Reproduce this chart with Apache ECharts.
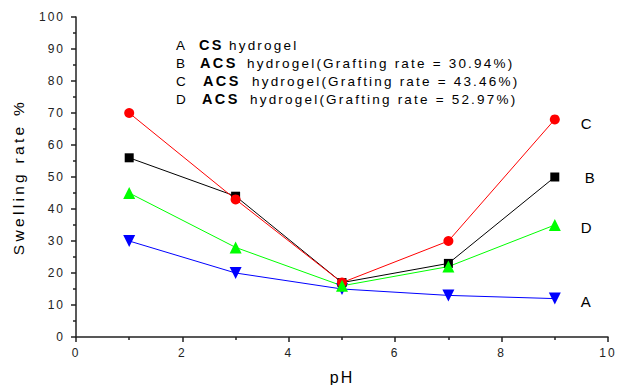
<!DOCTYPE html>
<html><head><meta charset="utf-8">
<script src="https://cdn.jsdelivr.net/npm/echarts@6/dist/echarts.min.js"></script>
<style>html,body{margin:0;padding:0;background:#fff}#c{width:618px;height:385px}
#c svg text[style*="15.5px"]{letter-spacing:3.3px}
#c svg text[style*="16px"]{letter-spacing:2px}
#c svg text[style*="13.5px"]{letter-spacing:2.2px}
#c svg text[style*="14.5px"]{letter-spacing:2.4px}
#c svg text[style*="12px"]{letter-spacing:2px}
</style>
</head><body><div id="c"></div>
<script>
const phValues = [1, 3, 5, 7, 9];
const seriesA = [30, 20, 15, 13, 12];
const seriesB = [56, 44, 17, 23, 50];
const seriesC = [70, 43, 17, 30, 68];
const seriesD = [45, 28, 16, 22, 35];
const legendKeys = ['A', 'B', 'C', 'D'];
const legendBold = ['CS', 'ACS', 'ACS', 'ACS'];
const legendRest = ['hydrogel', 'hydrogel(Grafting rate = 30.94%)', 'hydrogel(Grafting rate = 43.46%)', 'hydrogel(Grafting rate = 52.97%)'];

// layout of legend text segments (pixels)
const legendY = [45, 63, 81, 99];
const boldX = [199, 200, 203, 202];
const restX = [229, 247, 252, 250];

const chart = echarts.init(document.getElementById('c'), null, { renderer: 'svg' });
const font = 'Liberation Sans, Arial, sans-serif';
function mk(name, vals, color, symbol, size, rotate, off) {
  return {
    name: name, type: 'line', data: phValues.map((x, i) => [x, vals[i]]),
    symbol: symbol, symbolSize: size, symbolRotate: rotate || 0,
    lineStyle: { color: color, width: 1 }, itemStyle: { color: color },
    endLabel: { show: true, formatter: name, color: '#000', fontSize: 15, fontFamily: font, distance: 26, offset: off },
    animation: false
  };
}
const graphics = [];
legendKeys.forEach((k, i) => {
  const y = legendY[i];
  graphics.push({ type: 'text', x: 176, y: y, style: { text: k, font: '13.5px ' + font, fill: '#000', verticalAlign: 'middle' } });
  graphics.push({ type: 'text', x: boldX[i], y: y, style: { text: legendBold[i], font: 'bold 14.5px ' + font, fill: '#000', verticalAlign: 'middle' } });
  graphics.push({ type: 'text', x: restX[i], y: y, style: { text: legendRest[i], font: '13.5px ' + font, fill: '#000', verticalAlign: 'middle' } });
});
chart.setOption({
  backgroundColor: '#fff',
  grid: { left: 76, right: 10, top: 17, bottom: 48, outerBoundsMode: 'none', containLabel: false },
  xAxis: {
    type: 'value', min: 0, max: 10, interval: 2, name: 'pH', nameLocation: 'middle', nameGap: 32,
    nameTextStyle: { fontSize: 16, fontFamily: font, color: '#000' },
    axisLine: { lineStyle: { color: '#222', width: 1.5 } },
    axisTick: { show: true, length: 5, lineStyle: { color: '#222', width: 1.5 } },
    minorTick: { show: true, splitNumber: 2, length: 3, lineStyle: { color: '#222', width: 1.5 } },
    axisLabel: { fontSize: 12, fontFamily: font, color: '#222', margin: 10 },
    splitLine: { show: false }
  },
  yAxis: {
    type: 'value', min: 0, max: 100, interval: 10, name: 'Swelling rate %', nameLocation: 'middle', nameGap: 50,
    nameTextStyle: { fontSize: 15.5, fontFamily: font, color: '#000' },
    axisLine: { show: true, lineStyle: { color: '#222', width: 1.5 } },
    axisTick: { show: true, length: 5, lineStyle: { color: '#222', width: 1.5 } },
    minorTick: { show: true, splitNumber: 2, length: 3, lineStyle: { color: '#222', width: 1.5 } },
    axisLabel: { fontSize: 12, fontFamily: font, color: '#222', margin: 11 },
    splitLine: { show: false }
  },
  graphic: graphics,
  series: [
    mk('A', seriesA, '#0000ff', 'triangle', 12, 180, [0, 3]),
    mk('B', seriesB, '#000000', 'rect', 9, 0, [4, 0]),
    mk('C', seriesC, '#ff0000', 'circle', 10, 0, [0, 4]),
    mk('D', seriesD, '#00ff00', 'triangle', 12, 0, [0, 2])
  ]
});
</script></body></html>
